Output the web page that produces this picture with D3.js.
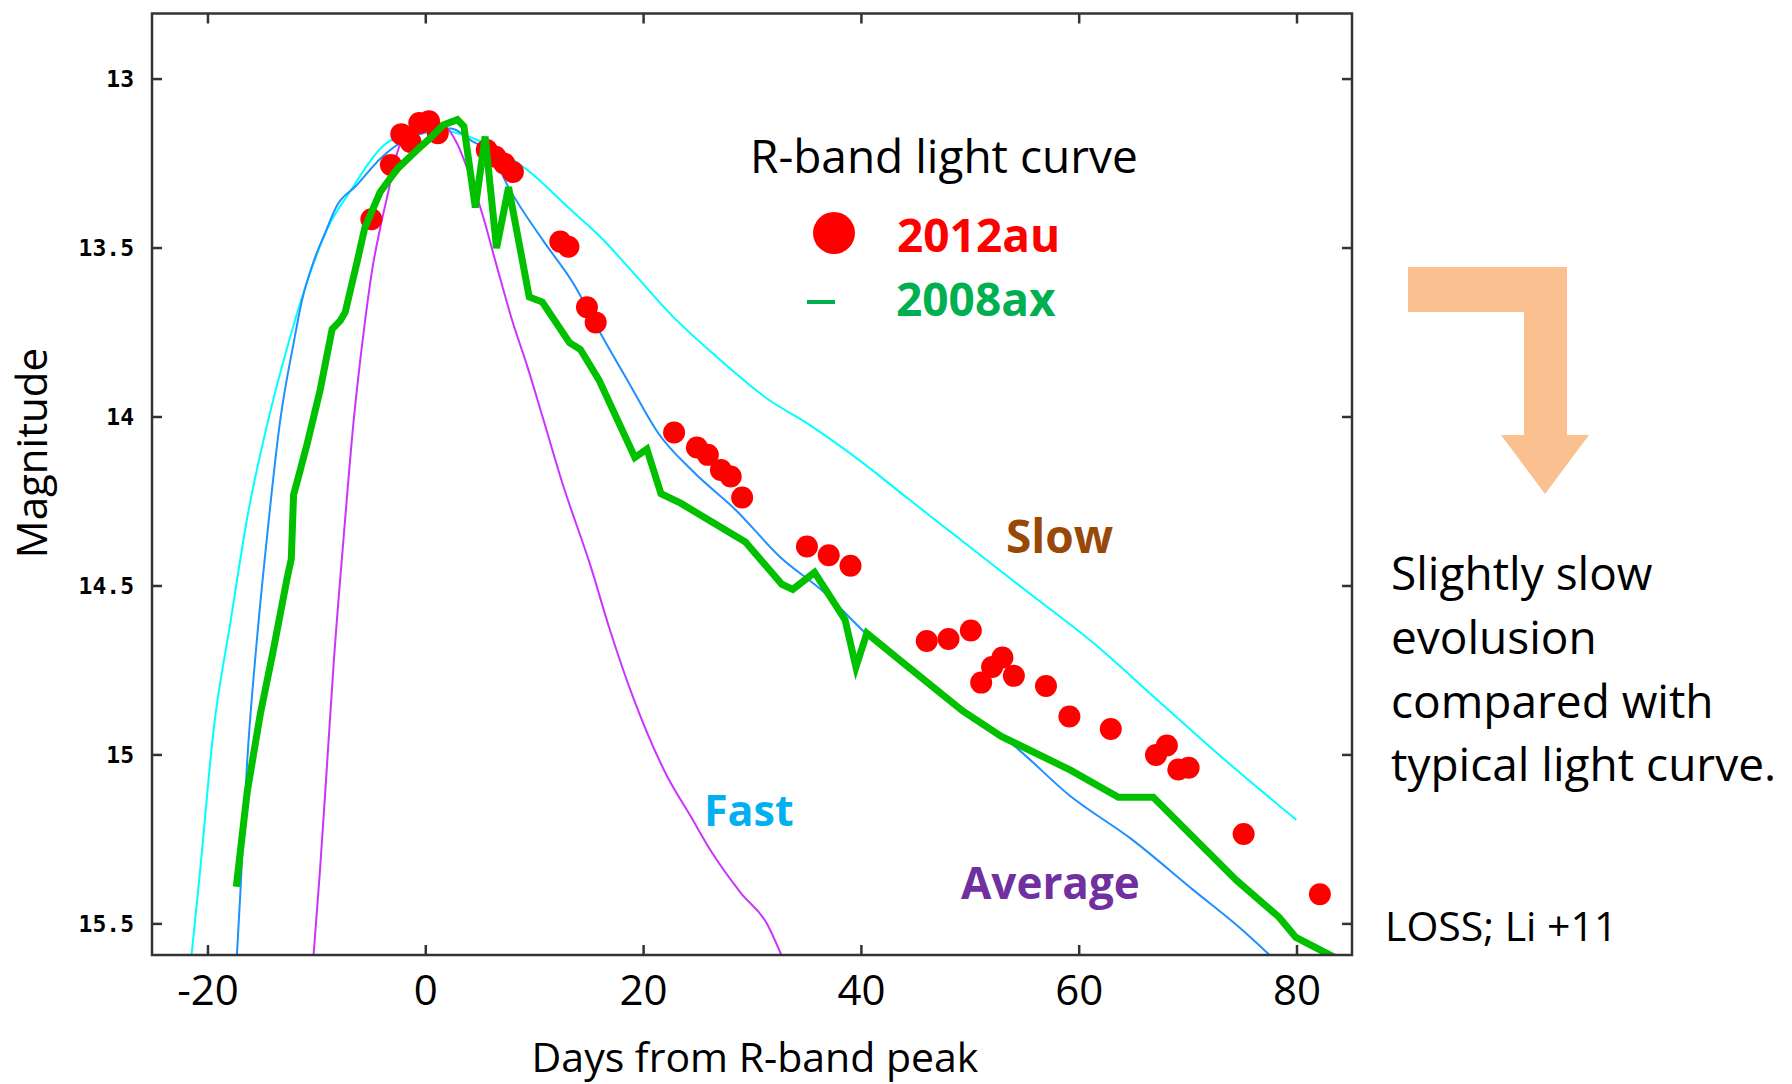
<!DOCTYPE html>
<html>
<head>
<meta charset="utf-8">
<script src="https://cdn.jsdelivr.net/npm/d3@7"></script>
<style>
  body { margin: 0; background: #fff; }
  svg { display: block; }
  text { font-family: "Open Sans", sans-serif; }
  text.ytick { font-family: "DejaVu Sans Mono", monospace; font-weight: bold; }
</style>
</head>
<body>
<div id="chart"></div>
<script>
const width = 1792,
  height = 1084;

// [days from R-band peak, magnitude]
const sn2012au = [
  [-5.0, 13.415], [-3.2, 13.254], [-2.25, 13.163], [-1.4, 13.186], [-0.6, 13.13],
  [0.3, 13.125], [1.1, 13.16], [5.6, 13.21], [6.4, 13.23], [7.2, 13.25], [8.0, 13.275],
  [12.35, 13.481], [13.1, 13.496], [14.8, 13.675], [15.6, 13.72],
  [22.8, 14.046], [24.9, 14.09], [25.9, 14.112], [27.1, 14.157], [28.0, 14.176], [29.05, 14.238],
  [35.0, 14.383], [37.0, 14.409], [39.0, 14.44],
  [46.0, 14.663], [48.0, 14.657], [50.05, 14.632], [51.0, 14.786], [52.0, 14.74], [52.95, 14.712],
  [54.0, 14.766], [56.95, 14.796], [59.1, 14.886], [62.9, 14.923],
  [67.05, 15.0], [68.05, 14.972], [69.1, 15.043], [70.05, 15.038], [75.1, 15.234], [82.1, 15.412]
];

const sn2008ax = [
  [-17.4, 15.39], [-16.4, 15.11], [-15.2, 14.88], [-14.0, 14.69], [-12.75, 14.48], [-12.35, 14.42],
  [-12.14, 14.23], [-11.8, 14.19], [-10.9, 14.08], [-9.7, 13.92], [-8.6, 13.74], [-7.85, 13.715],
  [-7.4, 13.69], [-6.3, 13.54], [-5.6, 13.44], [-4.2, 13.335], [-2.6, 13.265], [-0.8, 13.21],
  [0.4, 13.175], [1.6, 13.136], [2.9, 13.12], [3.5, 13.14], [4.55, 13.38], [5.45, 13.17],
  [6.5, 13.5], [7.6, 13.32], [9.5, 13.645], [10.7, 13.66], [13.2, 13.78], [14.2, 13.8],
  [15.9, 13.89], [19.2, 14.12], [20.3, 14.095], [21.6, 14.227], [23.4, 14.255], [29.35, 14.37],
  [32.7, 14.495], [33.7, 14.51], [35.7, 14.46], [38.5, 14.6], [39.5, 14.74], [40.5, 14.64],
  [44.5, 14.745], [49.3, 14.87], [52.85, 14.945], [59.2, 15.045], [63.6, 15.125], [66.8, 15.125],
  [74.4, 15.37], [78.35, 15.48], [79.9, 15.54], [83.5, 15.6]
];

const slowCurve = [
  [-21.5, 15.59], [-20.7, 15.335], [-19.5, 14.93], [-17.95, 14.61], [-16.35, 14.29], [-14.55, 14.02],
  [-12.75, 13.797], [-11.0, 13.61], [-9.0, 13.44], [-7.0, 13.335], [-4.0, 13.2], [-1.9, 13.161],
  [0.56, 13.146], [3.0, 13.161], [5.47, 13.19], [9.33, 13.269], [13.19, 13.383], [16.0, 13.466],
  [19.1, 13.575], [22.7, 13.703], [26.67, 13.821], [31.1, 13.94], [35.55, 14.03], [39.98, 14.132],
  [44.42, 14.245], [48.87, 14.357], [55.24, 14.517], [61.2, 14.666], [67.2, 14.838], [73.17, 15.009],
  [79.94, 15.192]
];

const averageCurve = [
  [-17.34, 15.59], [-17.03, 15.41], [-16.42, 15.03], [-15.5, 14.657], [-14.58, 14.355], [-13.36, 14.008],
  [-12.14, 13.782], [-11.36, 13.654], [-10.3, 13.54], [-9.26, 13.457], [-8.15, 13.374], [-6.46, 13.318],
  [-3.99, 13.23], [-1.89, 13.18], [0.21, 13.156], [2.31, 13.146], [4.07, 13.18], [6.17, 13.23],
  [7.58, 13.319], [10.73, 13.476], [13.54, 13.604], [16.0, 13.75], [18.67, 13.9], [21.35, 14.048],
  [24.5, 14.16], [28.55, 14.278], [32.53, 14.414], [36.52, 14.517], [40.5, 14.643], [44.48, 14.746],
  [48.87, 14.86], [53.64, 14.963], [59.23, 15.123], [64.8, 15.249], [70.38, 15.397], [75.16, 15.523],
  [77.55, 15.594]
];

const fastCurve = [
  [-10.3, 15.59], [-9.7, 15.335], [-9.07, 15.03], [-8.46, 14.73], [-7.54, 14.355], [-6.62, 14.01],
  [-5.71, 13.75], [-4.9, 13.56], [-4.18, 13.44], [-3.42, 13.33], [-2.64, 13.22], [-1.88, 13.16],
  [-0.81, 13.134], [0.41, 13.131], [1.79, 13.141], [2.86, 13.19], [4.09, 13.29], [5.2, 13.4],
  [6.53, 13.555], [7.92, 13.713], [9.33, 13.851], [10.73, 14.0], [12.49, 14.19], [15.2, 14.448],
  [16.8, 14.619], [19.1, 14.835], [22.16, 15.063], [24.3, 15.18], [26.16, 15.283], [28.94, 15.409],
  [31.34, 15.5], [32.65, 15.592]
];

const xTicks = [-20, 0, 20, 40, 60, 80];
const yTicks = [13, 13.5, 14, 14.5, 15, 15.5];
const yTickLabels = ["13", "13.5", "14", "14.5", "15", "15.5"];
const noteLines = ["Slightly slow", "evolusion", "compared with", "typical light curve."];

const plot = { left: 152, right: 1352, top: 13.5, bottom: 955 };

const x = d3.scaleLinear()
  .domain([-25.14, 85.05])
  .range([plot.left, plot.right]);

const y = d3.scaleLinear()
  .domain([12.806, 15.592])
  .range([plot.top, plot.bottom]);

const svg = d3.select("#chart").append("svg")
  .attr("width", width)
  .attr("height", height);

svg.append("clipPath").attr("id", "plot-clip")
  .append("rect")
  .attr("x", plot.left).attr("y", plot.top)
  .attr("width", plot.right - plot.left).attr("height", plot.bottom - plot.top);

const line = d3.line()
  .x(d => x(d[0]))
  .y(d => y(d[1]));

// model templates are smooth curves
const smoothLine = d3.line()
  .x(d => x(d[0]))
  .y(d => y(d[1]))
  .curve(d3.curveMonotoneX);

const curves = svg.append("g").attr("clip-path", "url(#plot-clip)");

curves.append("path").datum(slowCurve)
  .attr("d", smoothLine).attr("fill", "none").attr("stroke", "#00ffff").attr("stroke-width", 2);
curves.append("path").datum(averageCurve)
  .attr("d", smoothLine).attr("fill", "none").attr("stroke", "#1e90ff").attr("stroke-width", 2);
curves.append("path").datum(fastCurve)
  .attr("d", smoothLine).attr("fill", "none").attr("stroke", "#cc33ff").attr("stroke-width", 2);

curves.selectAll(".sn2012au").data(sn2012au)
  .join("circle")
  .attr("class", "sn2012au")
  .attr("cx", d => x(d[0]))
  .attr("cy", d => y(d[1]))
  .attr("r", 11)
  .attr("fill", "#ff0000");

curves.append("path").datum(sn2008ax)
  .attr("d", line).attr("fill", "none").attr("stroke", "#00c000")
  .attr("stroke-width", 7).attr("stroke-linejoin", "miter");

// frame + ticks (inward, on all four sides)
const frame = svg.append("g").attr("stroke", "#333").attr("stroke-width", 2.5);
frame.append("rect")
  .attr("x", plot.left).attr("y", plot.top)
  .attr("width", plot.right - plot.left).attr("height", plot.bottom - plot.top)
  .attr("fill", "none");

const tickLen = 10;
xTicks.forEach(t => {
  frame.append("line").attr("x1", x(t)).attr("x2", x(t)).attr("y1", plot.bottom).attr("y2", plot.bottom - tickLen);
  frame.append("line").attr("x1", x(t)).attr("x2", x(t)).attr("y1", plot.top).attr("y2", plot.top + tickLen);
});
yTicks.forEach(t => {
  frame.append("line").attr("x1", plot.left).attr("x2", plot.left + tickLen).attr("y1", y(t)).attr("y2", y(t));
  frame.append("line").attr("x1", plot.right).attr("x2", plot.right - tickLen).attr("y1", y(t)).attr("y2", y(t));
});

svg.append("g").selectAll("text").data(xTicks)
  .join("text")
  .attr("x", d => x(d))
  .attr("y", 1005)
  .attr("text-anchor", "middle")
  .attr("font-size", 42)
  .attr("fill", "#000")
  .text(d => d);

svg.append("g").selectAll("text").data(yTicks)
  .join("text")
  .attr("class", "ytick")
  .attr("x", 134)
  .attr("y", d => y(d))
  .attr("dy", "0.36em")
  .attr("text-anchor", "end")
  .attr("font-size", 23)
  .attr("fill", "#000")
  .text((d, i) => yTickLabels[i]);

svg.append("text")
  .attr("x", 755).attr("y", 1072)
  .attr("text-anchor", "middle")
  .attr("font-size", 41)
  .text("Days from R-band peak");

svg.append("text")
  .attr("transform", "translate(47,453) rotate(-90)")
  .attr("text-anchor", "middle")
  .attr("font-size", 42)
  .text("Magnitude");

// legend
svg.append("text").attr("x", 750).attr("y", 173).attr("font-size", 46).text("R-band light curve");
svg.append("circle").attr("cx", 834).attr("cy", 233).attr("r", 21).attr("fill", "#ff0000");
svg.append("text").attr("x", 897).attr("y", 252).attr("font-size", 46).attr("font-weight", "bold")
  .attr("fill", "#ff0000").text("2012au");
svg.append("line").attr("x1", 807).attr("x2", 835).attr("y1", 302).attr("y2", 302)
  .attr("stroke", "#00b050").attr("stroke-width", 4);
svg.append("text").attr("x", 896).attr("y", 316).attr("font-size", 46).attr("font-weight", "bold")
  .attr("fill", "#00b050").text("2008ax");

// curve labels
svg.append("text").attr("x", 1006).attr("y", 553).attr("font-size", 46).attr("font-weight", "bold")
  .attr("fill", "#984807").text("Slow");
svg.append("text").attr("x", 704).attr("y", 826).attr("font-size", 43).attr("font-weight", "bold")
  .attr("fill", "#00b0f0").text("Fast");
svg.append("text").attr("x", 961).attr("y", 899).attr("font-size", 44).attr("font-weight", "bold")
  .attr("fill", "#7030a0").text("Average");

// bent arrow
svg.append("path")
  .attr("d", "M1408,267 H1567 V435 H1589 L1545,494 L1501,435 H1524 V312 H1408 Z")
  .attr("fill", "#fac090");

svg.append("g").selectAll("text").data(noteLines)
  .join("text")
  .attr("x", 1391)
  .attr("y", (d, i) => 590 + i * 63.8)
  .attr("font-size", 46)
  .attr("fill", "#000")
  .text(d => d);

svg.append("text").attr("x", 1385).attr("y", 941).attr("font-size", 41).text("LOSS; Li +11");
</script>
</body>
</html>
